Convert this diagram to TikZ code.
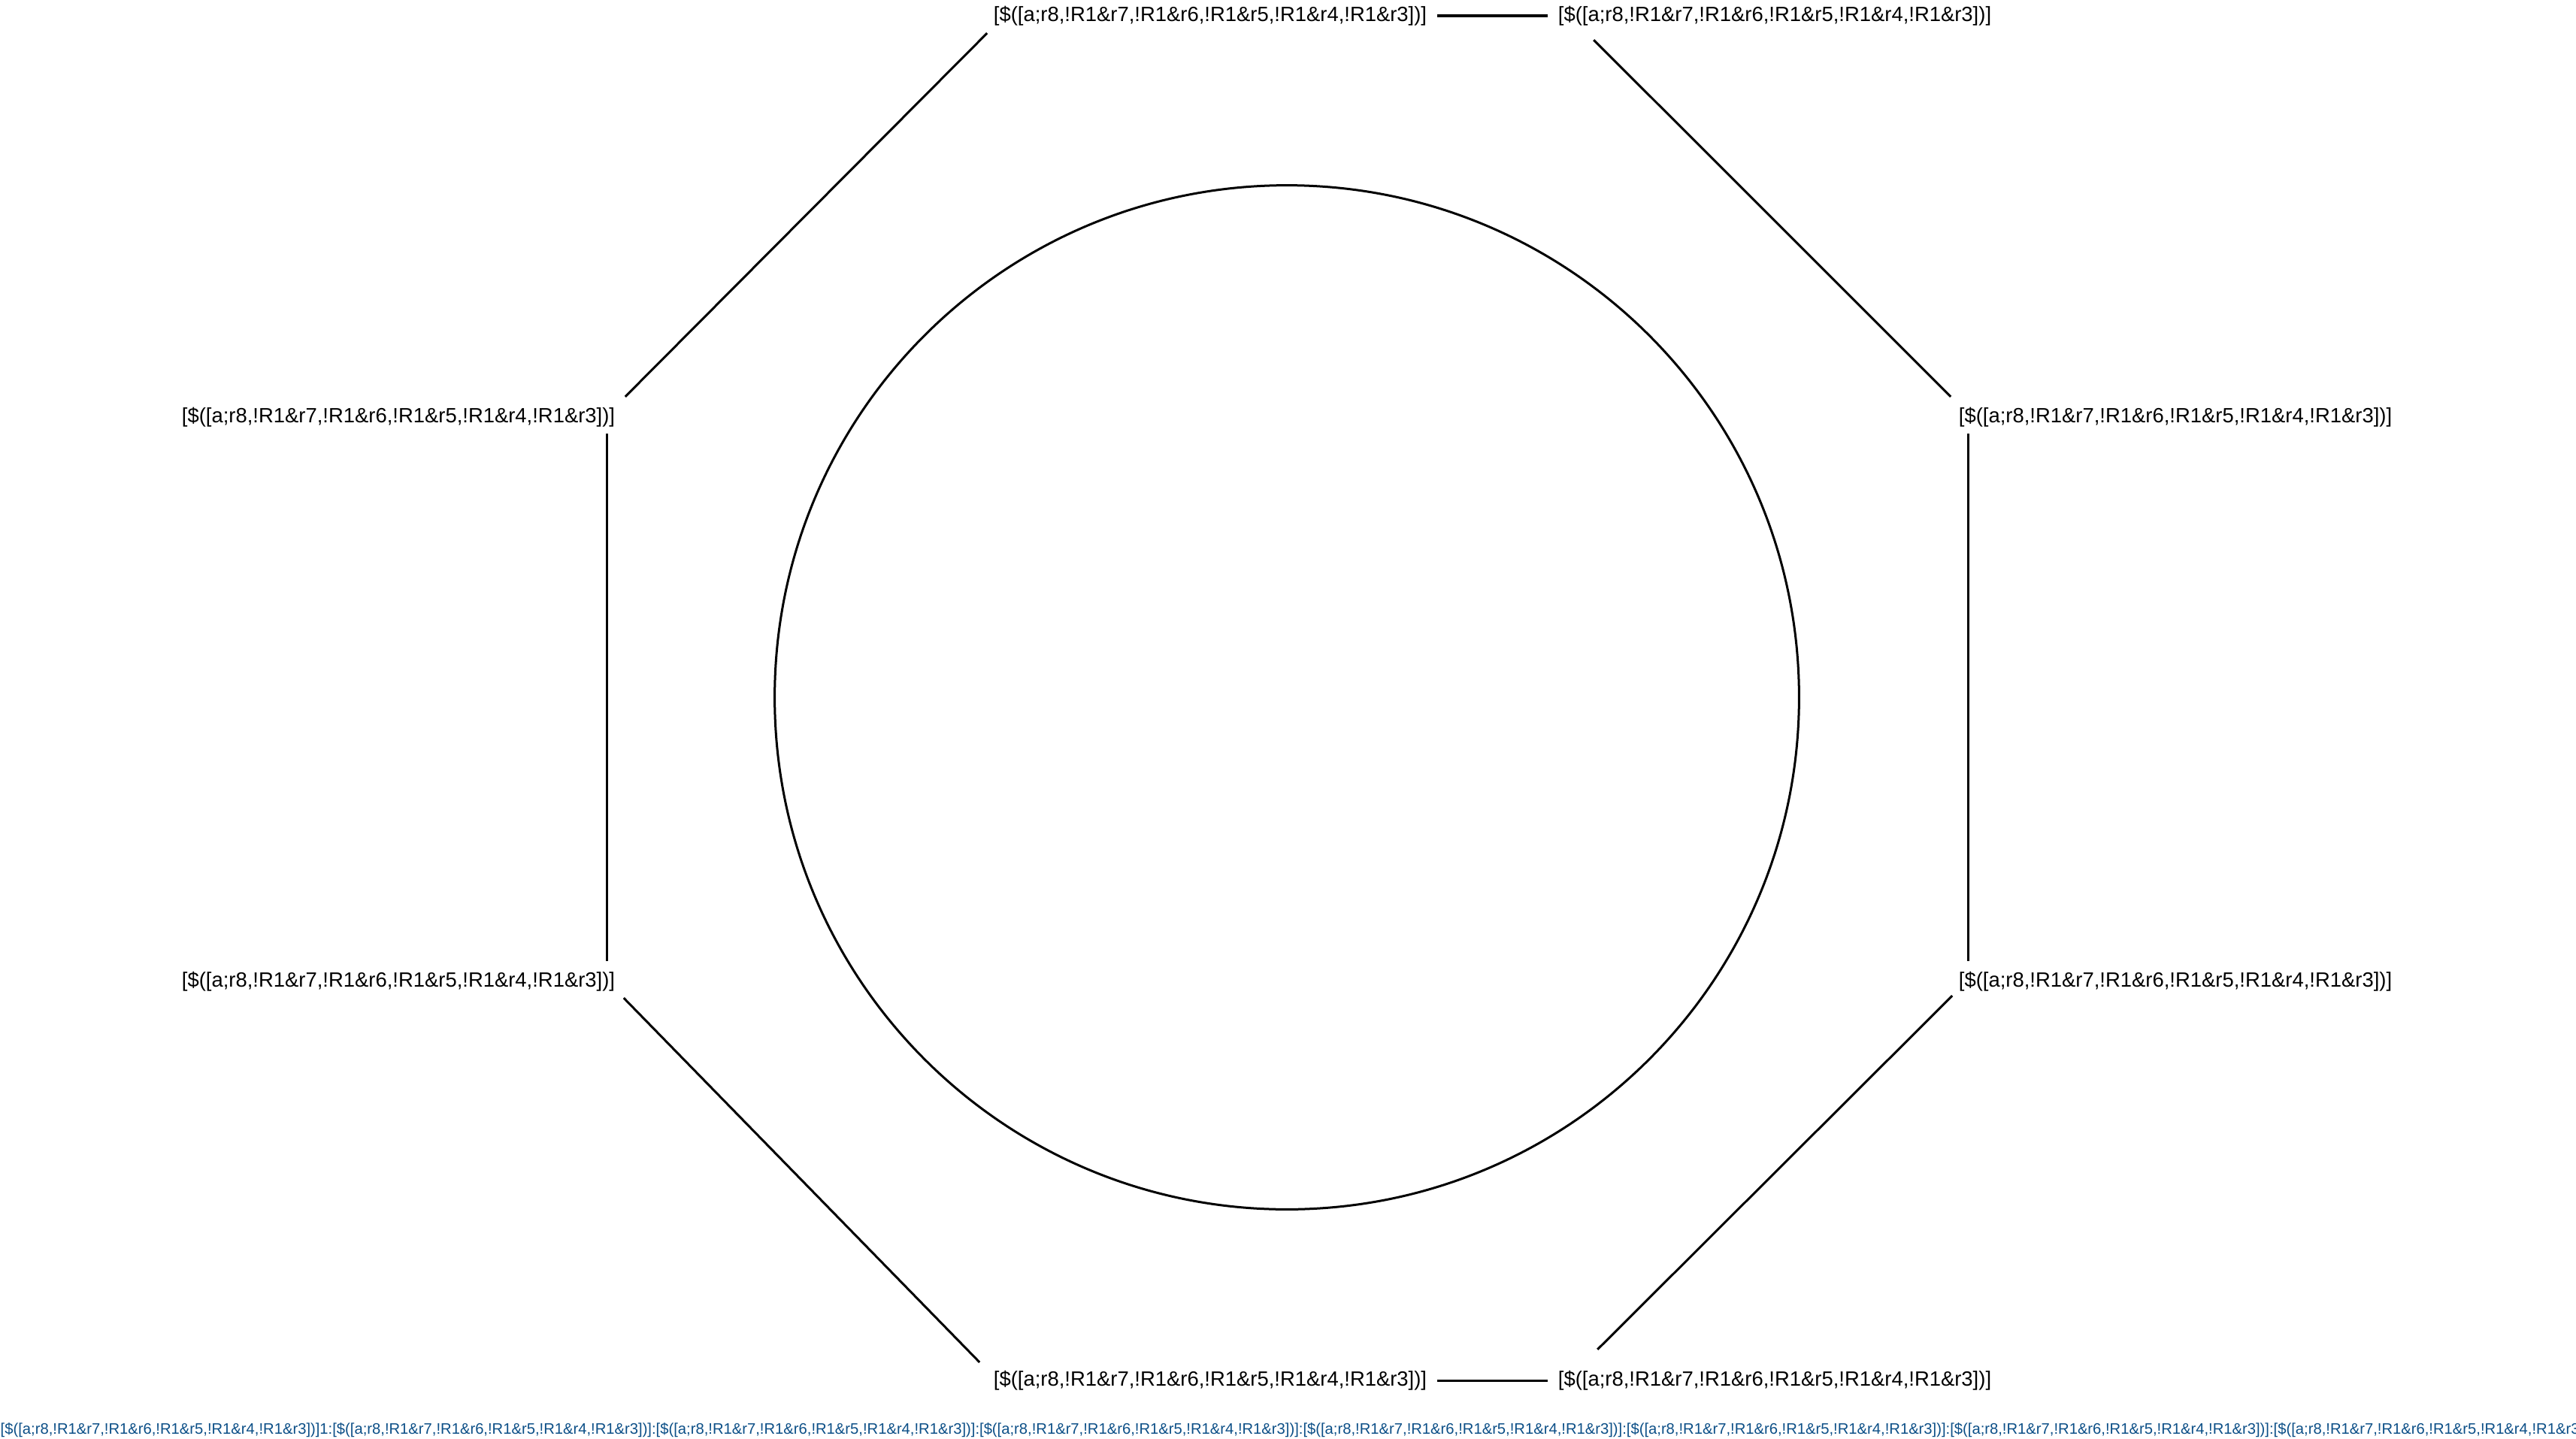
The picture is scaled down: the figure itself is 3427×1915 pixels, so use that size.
\documentclass[tikz,border=0pt]{standalone}
\usepackage{fontspec}
\setmainfont{Liberation Sans}
\definecolor{labelblue}{RGB}{12,79,135}
\newcommand{\lbltxt}{[\$([a;r8,!R1\&r7,!R1\&r6,!R1\&r5,!R1\&r4,!R1\&r3])]}
\begin{document}
\begin{tikzpicture}[x=0.01cm,y=-0.01cm,
  lbl/.style={font=\fontsize{7.8pt}{9pt}\selectfont, text height=0.21cm, text depth=0.058cm, inner xsep=0.13cm, inner ysep=0.13cm},
  edge/.style={line width=0.03cm, draw=black},
  legend/.style={anchor=base west, inner sep=0pt, text=labelblue, font=\fontsize{5.75pt}{7pt}\selectfont}]
\useasboundingbox (0,0) rectangle (3427,1915);
\node[draw, circle, line width=0.03cm, minimum size=13.62cm, inner sep=0pt] (ring) at (1712,928) {};
\node[lbl] (tl) at (1610,21) {\lbltxt};
\node[lbl] (tr) at (2361,21) {\lbltxt};
\node[lbl] (lu) at (530,555) {\lbltxt};
\node[lbl] (ll) at (530,1306) {\lbltxt};
\node[lbl] (ru) at (2894,555) {\lbltxt};
\node[lbl] (rl) at (2894,1306) {\lbltxt};
\node[lbl] (bl) at (1610,1837) {\lbltxt};
\node[lbl] (br) at (2361,1837) {\lbltxt};
\draw[edge] (tl.east) -- (tr.west);
\draw[edge] ([shift={(5,-4)}]tl.south west) -- (lu.north east);
\draw[edge] ([shift={(-24,-5)}]lu.south east) -- ([shift={(-24,0)}]ll.north east);
\draw[edge] ([shift={(-2,-5)}]ll.south east) -- ([shift={(-5,3)}]bl.north west);
\draw[edge] (bl.east) -- (br.west);
\draw[edge] ([shift={(66,-14)}]br.north west) -- ([shift={(5,-8)}]rl.south west);
\draw[edge] ([shift={(26,-5)}]ru.south west) -- ([shift={(26,0)}]rl.north west);
\draw[edge] ([shift={(61,5)}]tr.south west) -- ([shift={(3,0)}]ru.north west);
\node[legend] (caption) at (0,1908) {\lbltxt1:\lbltxt:\lbltxt:\lbltxt:\lbltxt:\lbltxt:\lbltxt:\lbltxt:\lbltxt:\lbltxt};
\end{tikzpicture}
\end{document}
